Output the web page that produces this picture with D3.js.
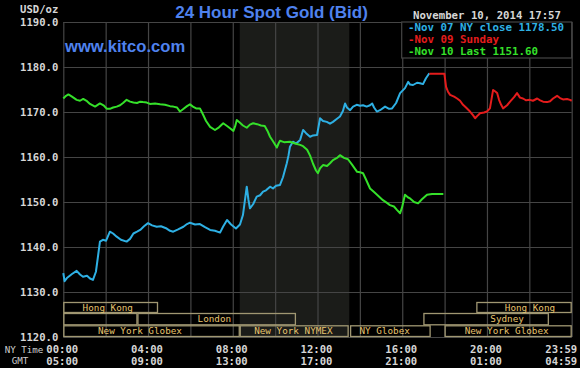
<!DOCTYPE html>
<html><head><meta charset="utf-8">
<script src="https://cdn.jsdelivr.net/npm/d3@7"></script>
<style>html,body{margin:0;padding:0;background:#000;}svg{display:block;}</style>
</head><body><svg id="c" width="580" height="368"></svg>
<script>
// ---------- DATA ----------
const chartTitle = "24 Hour Spot Gold (Bid)";
const siteLabel = "www.kitco.com";
const stampLabel = "November 10, 2014 17:57";
const unitLabel = "USD/oz";
const yTicks = [1120, 1130, 1140, 1150, 1160, 1170, 1180, 1190];
const gridHours = [0, 2, 4, 6, 8, 10, 12, 14, 16, 18, 20, 22, 24];
const labelHours = [0, 4, 8, 12, 16, 20, 24];
const nyTimeLabels = ["00:00", "04:00", "08:00", "12:00", "16:00", "20:00", "23:59"];
const gmtLabels = ["05:00", "09:00", "13:00", "17:00", "21:00", "01:00", "04:59"];
const nymexBand = [8.33, 13.5];

const legendNames = ["Nov 07 NY close 1178.50", "Nov 09 Sunday", "Nov 10 Last 1151.60"];

// [hour (NY time), price]
const nov07 = [
  [0,1134.2],[0.06,1132.4],[0.17,1133.1],[0.41,1134.0],[0.63,1134.7],[0.79,1133.9],[0.93,1133.4],
  [1.12,1133.6],[1.26,1133.0],[1.40,1132.7],[1.54,1134.5],[1.64,1138.0],[1.73,1141.2],[1.87,1141.6],
  [2.02,1141.4],[2.20,1143.4],[2.35,1143.0],[2.52,1142.3],[2.72,1141.6],[2.99,1141.2],[3.15,1141.8],
  [3.31,1143.0],[3.48,1143.4],[3.63,1143.8],[3.81,1144.6],[4.00,1145.3],[4.19,1144.8],[4.41,1144.5],
  [4.61,1144.6],[4.88,1144.1],[5.04,1143.6],[5.19,1143.4],[5.42,1143.9],[5.67,1144.5],[5.84,1145.1],
  [5.98,1145.4],[6.22,1145.0],[6.45,1145.1],[6.69,1144.4],[6.93,1143.8],[7.16,1143.6],[7.40,1143.2],
  [7.54,1144.5],[7.73,1146.0],[7.92,1145.0],[8.15,1144.1],[8.34,1145.0],[8.48,1147.1],[8.66,1153.4],
  [8.74,1150.5],[8.81,1148.6],[8.96,1149.5],[9.13,1151.2],[9.29,1151.5],[9.43,1152.3],[9.57,1152.6],
  [9.76,1153.4],[9.90,1153.0],[10.04,1153.6],[10.23,1153.8],[10.37,1155.5],[10.55,1158.6],[10.63,1160.3],
  [10.70,1162.3],[10.84,1163.4],[10.99,1163.0],[11.18,1163.8],[11.32,1166.0],[11.46,1165.3],[11.65,1164.5],
  [11.79,1164.8],[11.98,1164.9],[12.12,1168.6],[12.26,1168.0],[12.44,1167.8],[12.59,1167.4],[12.73,1167.8],
  [12.92,1168.5],[13.06,1169.0],[13.20,1170.2],[13.30,1171.9],[13.39,1171.0],[13.54,1170.4],[13.68,1171.2],
  [13.85,1171.6],[14.01,1171.4],[14.15,1171.5],[14.32,1171.2],[14.48,1171.5],[14.58,1171.9],[14.67,1171.0],
  [14.80,1170.1],[14.95,1170.4],[15.19,1171.2],[15.38,1170.7],[15.52,1170.8],[15.71,1172.0],[15.90,1174.2],
  [16.13,1175.3],[16.28,1176.7],[16.37,1176.1],[16.51,1176.0],[16.70,1176.5],[16.84,1176.4],[16.98,1176.2],
  [17.12,1177.5],[17.28,1178.6]
];
const nov09 = [
  [17.28,1178.5],[17.99,1178.5],[18.07,1175.6],[18.16,1174.5],[18.26,1173.8],[18.45,1173.4],[18.59,1173.0],
  [18.73,1172.5],[18.87,1171.6],[19.01,1171.0],[19.20,1170.1],[19.34,1169.3],[19.44,1168.6],[19.58,1169.3],
  [19.67,1169.7],[19.86,1169.9],[20.00,1170.1],[20.14,1170.8],[20.29,1174.9],[20.38,1174.6],[20.48,1174.2],
  [20.57,1172.7],[20.67,1171.6],[20.76,1170.8],[20.95,1171.5],[21.09,1172.3],[21.28,1173.3],[21.42,1174.2],
  [21.56,1173.2],[21.70,1173.0],[21.85,1172.6],[22.03,1172.7],[22.17,1172.5],[22.37,1173.0],[22.51,1172.6],
  [22.65,1172.3],[22.84,1172.2],[22.98,1172.4],[23.12,1173.0],[23.31,1173.6],[23.45,1173.1],[23.59,1172.8],
  [23.78,1172.9],[23.92,1172.7],[24.0,1172.5]
];
const nov10 = [
  [0,1173.0],[0.13,1173.6],[0.24,1173.9],[0.41,1173.4],[0.63,1172.7],[0.79,1172.5],[0.94,1172.9],
  [1.12,1172.4],[1.26,1171.8],[1.50,1171.2],[1.73,1171.9],[1.92,1171.4],[2.06,1170.7],[2.20,1170.7],
  [2.35,1171.0],[2.52,1171.2],[2.68,1171.5],[2.82,1172.0],[2.99,1172.7],[3.15,1172.3],[3.31,1172.1],
  [3.48,1172.0],[3.63,1172.3],[3.76,1172.2],[3.94,1172.1],[4.09,1171.8],[4.33,1171.9],[4.57,1171.7],
  [4.80,1171.6],[5.04,1171.3],[5.19,1171.2],[5.37,1171.0],[5.51,1170.1],[5.65,1170.6],[5.84,1171.3],
  [5.98,1171.7],[6.12,1171.2],[6.27,1170.8],[6.45,1170.8],[6.59,1169.5],[6.74,1168.0],[6.93,1166.7],
  [7.16,1166.0],[7.35,1166.6],[7.55,1167.5],[7.73,1166.9],[7.87,1166.4],[8.03,1165.8],[8.11,1166.8],
  [8.19,1168.2],[8.34,1167.6],[8.48,1167.0],[8.66,1166.5],[8.81,1167.2],[8.96,1167.5],[9.15,1167.3],
  [9.33,1167.0],[9.51,1166.9],[9.64,1165.8],[9.76,1164.5],[9.90,1163.5],[10.08,1162.1],[10.16,1163.0],
  [10.23,1163.6],[10.42,1163.3],[10.70,1163.4],[10.94,1163.0],[11.18,1162.7],[11.32,1162.4],[11.51,1161.6],
  [11.65,1160.3],[11.79,1158.5],[11.93,1157.0],[12.02,1156.4],[12.12,1157.5],[12.26,1158.2],[12.45,1158.0],
  [12.59,1158.6],[12.73,1159.3],[12.92,1159.8],[13.06,1160.4],[13.25,1159.8],[13.44,1159.5],[13.63,1158.3],
  [13.87,1156.7],[14.01,1156.6],[14.15,1156.4],[14.29,1155.0],[14.48,1153.0],[14.67,1152.2],[14.86,1151.4],
  [15.09,1150.4],[15.28,1149.8],[15.42,1149.3],[15.61,1149.0],[15.76,1148.2],[15.90,1147.5],[15.99,1148.8],
  [16.13,1151.6],[16.28,1151.0],[16.37,1150.8],[16.56,1150.0],[16.75,1149.7],[16.93,1150.6],[17.17,1151.6],
  [17.41,1151.8],[17.64,1151.8],[17.94,1151.8]
];

// market sessions: name, row (0 top), start hour, end hour, label centre hour
const sessionNames = ["Hong Kong", "", "London", "New York Globex", "New York NYMEX", "NY Globex", "Sydney", "Hong Kong", "New York Globex"];
const sessionRows  = [0, 1, 1, 2, 2, 2, 1, 0, 2];
const sessionStart = [0, 0, 3.5, 0, 8.33, 13.54, 17.0, 19.5, 18.0];
const sessionEnd   = [4.47, 3.5, 10.98, 8.33, 13.47, 17.34, 22.92, 24, 24];
const sessionMid   = [2.10, 1.75, 7.13, 3.62, 10.86, 15.17, 20.95, 22.03, 20.93];

// ---------- DRAW ----------
const W = 580, H = 368;
const L = 63.3, R = 571.7, T = 22, B = 337;
const svg = d3.select("#c");
const mono = "'DejaVu Sans Mono', monospace";
const sans = "'Liberation Sans', Arial, sans-serif";
const gridColor = "#454545";
const labelColor = "#d6d6d6";
const colors = ["#2eb0e4", "#e41c1c", "#35e02a"];

const x = d3.scaleLinear().domain([0, 24]).range([L, R]);
const y = d3.scaleLinear().domain([1120, 1190]).range([B, T]);

svg.append("rect").attr("width", W).attr("height", H).attr("fill", "#000");

// NYMEX shaded band
svg.append("rect")
  .attr("x", x(nymexBand[0])).attr("y", T)
  .attr("width", x(nymexBand[1]) - x(nymexBand[0])).attr("height", B - T)
  .attr("fill", "#1b1c19");

// grid
const gy = svg.append("g").attr("transform", `translate(${L},0)`)
  .call(d3.axisLeft(y).tickValues(yTicks).tickSize(-(R - L)).tickFormat(""));
gy.select(".domain").remove();
gy.selectAll("line").attr("stroke", gridColor).attr("stroke-width", 1.2);

const gx = svg.append("g").attr("transform", `translate(0,${B})`)
  .call(d3.axisBottom(x).tickValues(gridHours).tickSize(-(B - T)).tickFormat(""));
gx.select(".domain").remove();
gx.selectAll("line").attr("stroke", gridColor).attr("stroke-width", 1.2);

// y labels
const ya = svg.append("g").attr("transform", `translate(${L},0)`)
  .call(d3.axisLeft(y).tickValues(yTicks).tickSize(0).tickPadding(5).tickFormat(d3.format(".1f")));
ya.select(".domain").remove();
ya.selectAll("text").attr("fill", labelColor).style("font-family", mono)
  .style("font-size", "10.6px").style("font-weight", "bold").attr("dy", "0.35em");

svg.append("text").attr("x", L - 5).attr("y", 12.5).attr("text-anchor", "end")
  .attr("fill", labelColor).style("font-family", mono).style("font-size", "10.6px")
  .style("font-weight", "bold").text(unitLabel);

// session boxes
const rowTop = [302, 313, 325.3];
const rowBot = [313, 325.3, 337];
const sess = sessionNames.map((n, i) => ({n, r: sessionRows[i], s: sessionStart[i], e: sessionEnd[i], m: sessionMid[i]}));
const sg = svg.append("g");
sg.selectAll("rect").data(sess).join("rect")
  .attr("x", d => x(d.s) + 0.5).attr("y", d => rowTop[d.r] + 0.5)
  .attr("width", d => x(d.e) - x(d.s) - 1).attr("height", d => rowBot[d.r] - rowTop[d.r] - 1)
  .attr("fill", "none").attr("stroke", "#a09772").attr("stroke-width", 1.3);
sg.selectAll("text").data(sess).join("text")
  .attr("x", d => x(d.m)).attr("y", d => (rowTop[d.r] + rowBot[d.r]) / 2)
  .attr("dy", "0.36em").attr("text-anchor", "middle")
  .attr("fill", "#e6c36e").style("font-family", mono).style("font-size", "9.3px")
  .text(d => d.n);

// lines
const line = d3.line().x(d => x(d[0])).y(d => y(d[1]));
[nov07, nov09, nov10].forEach((s, i) => {
  svg.append("path").datum(s).attr("d", line).attr("fill", "none")
    .attr("stroke", colors[i]).attr("stroke-width", 2).attr("stroke-linejoin", "round");
});

// x labels (NY time and GMT)
function timeAxis(labels, yPos) {
  const a = svg.append("g").attr("transform", `translate(-1.5,${yPos})`)
    .call(d3.axisBottom(x).tickValues(labelHours).tickSize(0).tickPadding(0)
      .tickFormat((d, i) => labels[i]));
  a.select(".domain").remove();
  a.selectAll("text").attr("fill", labelColor).attr("y", 0).attr("dy", "0.35em")
    .style("font-family", mono).style("font-size", "10.6px").style("font-weight", "bold");
  a.selectAll(".tick").filter(d => d === 24).select("text").attr("text-anchor", "end").attr("x", 6.5);
}
timeAxis(nyTimeLabels, 349.5);
timeAxis(gmtLabels, 361);

svg.append("text").attr("x", 24).attr("y", 352.5).attr("text-anchor", "middle")
  .attr("fill", "#cfcfcf").style("font-family", mono).style("font-size", "9.2px").text("NY Time");
svg.append("text").attr("x", 20).attr("y", 364).attr("text-anchor", "middle")
  .attr("fill", "#cfcfcf").style("font-family", mono).style("font-size", "9.2px").text("GMT");

// titles
svg.append("text").attr("x", 271.5).attr("y", 17.5).attr("text-anchor", "middle")
  .attr("fill", "#4f82ee").style("font-family", sans).style("font-size", "17px")
  .style("font-weight", "bold").text(chartTitle);
svg.append("text").attr("x", 65).attr("y", 52.3)
  .attr("fill", "#4f82ee").style("font-family", sans).style("font-size", "16.6px")
  .style("font-weight", "bold").text(siteLabel);
svg.append("text").attr("x", 413).attr("y", 18.5)
  .attr("fill", labelColor).style("font-family", mono).style("font-size", "10.7px")
  .style("font-weight", "bold").text(stampLabel);

// legend
svg.append("rect").attr("x", 401.7).attr("y", T).attr("width", R - 401.7).attr("height", 36)
  .attr("fill", "#000").attr("stroke", gridColor).attr("stroke-width", 1.2);
const lg = svg.append("g");
legendNames.forEach((n, i) => {
  lg.append("text").attr("x", 408).attr("y", 30.8 + i * 12)
    .attr("fill", colors[i]).style("font-family", mono).style("font-size", "10.8px")
    .style("font-weight", "bold").attr("xml:space", "preserve").text("-" + n);
});
</script></body></html>
